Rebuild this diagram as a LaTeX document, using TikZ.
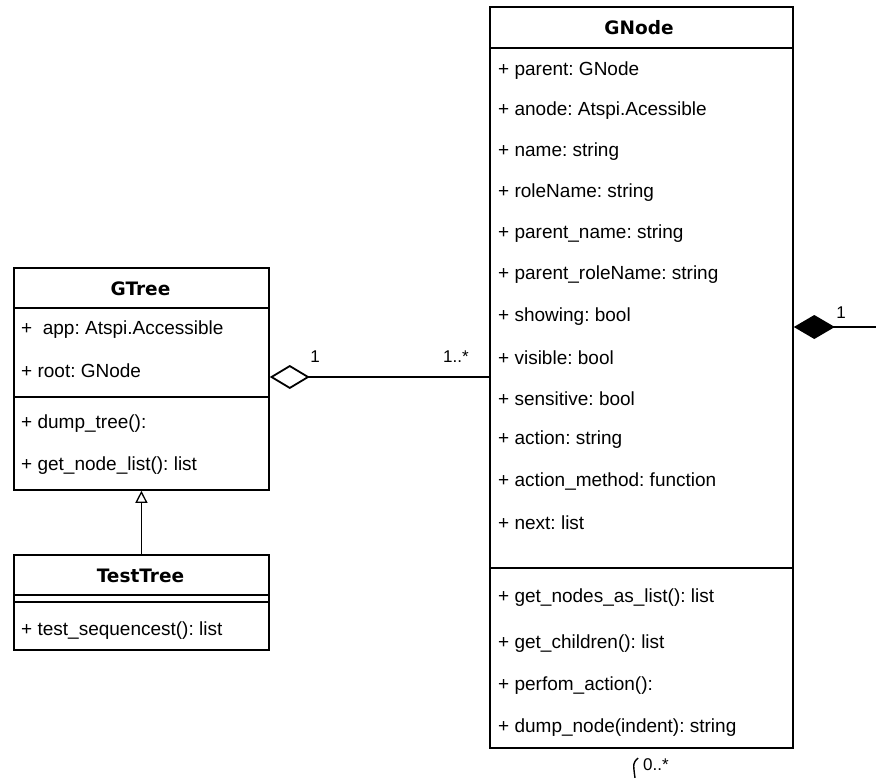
\documentclass[tikz,border=0pt]{standalone}
\usepackage{fontspec}
\setmainfont{Liberation Sans}
\newfontfamily\headfont{DejaVu Sans}
\usetikzlibrary{arrows.meta}
\frenchspacing
\begin{document}
\begin{tikzpicture}[x=1pt,y=1pt,
  classbox/.style={draw,line width=1.8pt,inner sep=0pt,anchor=north west},
  sepline/.style={line width=1.8pt},
  member/.style={anchor=west,inner sep=0pt,font=\fontsize{19}{22}\selectfont},
  title/.style={inner sep=0pt,font=\headfont\bfseries\fontsize{18.5}{22}\selectfont},
  mult/.style={inner sep=0pt,font=\fontsize{17}{20}\selectfont},
  assoc/.style={line width=1.8pt}]
\useasboundingbox (0,0) rectangle (876,-778);

% ---- GTree ----
\node[classbox,minimum width=255pt,minimum height=222pt] (gtree) at (13,-267) {};
\draw[sepline] (13,-308) -- (268,-308);
\draw[sepline] (13,-397) -- (268,-397);
\node[title] (gtreeT) at (140.5,-289) {GTree};
\node[member] (gt1) at (21,-330) {+\ \ app: Atspi.Accessible};
\node[member] (gt2) at (21,-371) {+ root: GNode};
\node[member] (gt3) at (21,-424) {+ dump\_tree():};
\node[member] (gt4) at (21,-466) {+ get\_node\_list(): list};

% ---- TestTree ----
\node[classbox,minimum width=255pt,minimum height=95pt] (testtree) at (13,-554) {};
\draw[sepline] (13,-595) -- (268,-595);
\draw[sepline] (13,-602) -- (268,-602);
\node[title] (ttT) at (140.5,-576) {TestTree};
\node[member] (tt1) at (21,-631) {+ test\_sequencest(): list};

% ---- GNode ----
\node[classbox,minimum width=303pt,minimum height=741pt] (gnode) at (489,-6) {};
\draw[sepline] (489,-48) -- (792,-48);
\draw[sepline] (489,-568) -- (792,-568);
\node[title] (gnT) at (639,-28) {GNode};
\foreach \y/\t [count=\i] in {
  71/{+ parent: GNode},
  111/{+ anode: Atspi.Acessible},
  152/{+ name: string},
  193/{+ roleName: string},
  234/{+ parent\_name: string},
  275/{+ parent\_roleName: string},
  317/{+ showing: bool},
  358/{+ visible: bool},
  399/{+ sensitive: bool},
  440/{+ action: string},
  482/{+ action\_method: function},
  523/{+ next: list},
  598/{+ get\_nodes\_as\_list(): list},
  644/{+ get\_children(): list},
  686/{+ perfom\_action():},
  728/{+ dump\_node(indent): string}}
  \node[member] (gn\i) at (498,-\y) {\t};

% ---- TestTree inherits from GTree ----
\draw[assoc,-{Triangle[open,length=12pt,width=12pt,line width=1.3pt]}]
  (testtree.north) -- (gtree.south);

% ---- GTree aggregates GNode ----
\coordinate (aggY) at (0,-377);
\draw[assoc,{Diamond[open,length=40pt,width=24pt,line width=1.8pt]}-]
  (gtree.east |- aggY) -- (gnode.west |- aggY);
\node[mult] (m1) at (315,-357) {1};
\node[mult] (m2) at (456,-357) {1..*};

% ---- GNode composition (self association) ----
\coordinate (compY) at (0,-327);
\coordinate (compEnd) at (876,-327);
\draw[assoc,{Diamond[length=41pt,width=24pt]}-]
  (gnode.east |- compY) -- (compEnd);
\node[mult] (m3) at (841,-313) {1};
\coordinate (loopA) at (638,-758);
\coordinate (loopB) at (635,-778);
\draw[line width=1.4pt] (loopA) .. controls (633,-763) .. (loopB);
\node[mult,anchor=west] (m4) at (643,-765) {0..*};
\end{tikzpicture}
\end{document}
